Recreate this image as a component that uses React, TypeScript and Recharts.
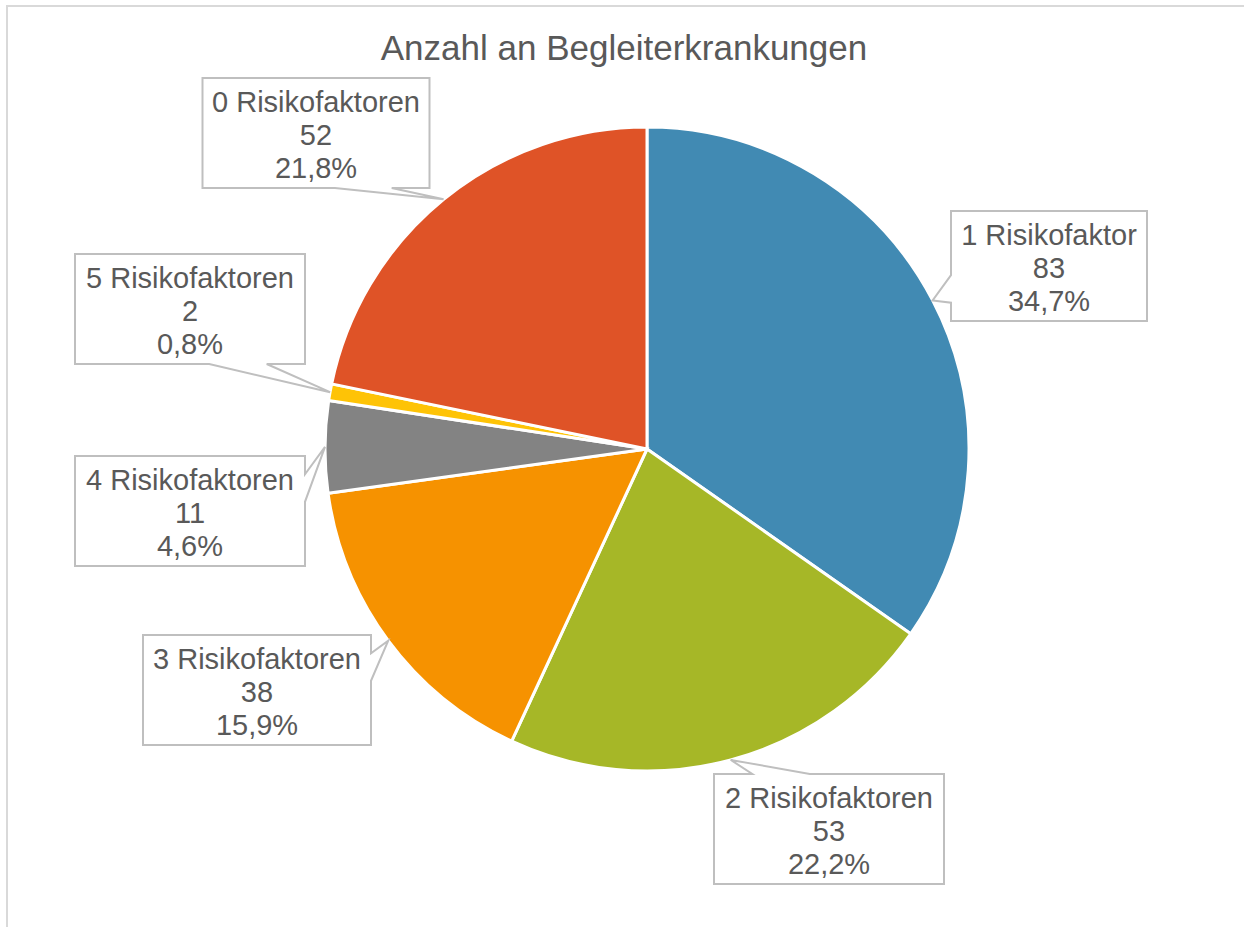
import React from 'react';
import { PieChart, Pie, Cell } from 'recharts';

const categories = ['1 Risikofaktor', '2 Risikofaktoren', '3 Risikofaktoren', '4 Risikofaktoren', '5 Risikofaktoren', '0 Risikofaktoren'];
const counts = [83, 53, 38, 11, 2, 52];
const colors = ['#418AB3', '#A6B727', '#F69200', '#838383', '#FEC306', '#DF5327'];

// callout boxes: centre offset from the pie centre, size, and which edge carries the wedge
const callouts = [
  { dx: 402, dy: -183, w: 196, side: 'left' },
  { dx: 182, dy: 380, w: 230, side: 'top' },
  { dx: -390, dy: 241, w: 228, side: 'right' },
  { dx: -457, dy: 62, w: 230, side: 'right' },
  { dx: -457, dy: -140, w: 230, side: 'bottom' },
  { dx: -331, dy: -316, w: 227, side: 'bottom' },
];

const total = counts.reduce((a, b) => a + b, 0);
const data = categories.map((name, i) => ({ name, value: counts[i] }));

const TEXT = '#595959';
const FONT = '"Liberation Sans", Arial, sans-serif';
const RAD = Math.PI / 180;

function calloutPath(l: number, t: number, w: number, h: number, tx: number, ty: number, side: string) {
  const r = l + w;
  const b = t + h;
  const hc = l + w / 2;
  const vc = t + h / 2;
  const xg1 = tx - hc > 0 ? 7 : 2;
  const xg2 = tx - hc > 0 ? 10 : 5;
  const yg1 = ty - vc > 0 ? 7 : 2;
  const yg2 = ty - vc > 0 ? 10 : 5;
  const x1 = l + (w * xg1) / 12;
  const x2 = l + (w * xg2) / 12;
  const y1 = t + (h * yg1) / 12;
  const y2 = t + (h * yg2) / 12;
  const pts: [number, number][] = [[l, t]];
  if (side === 'top') pts.push([x1, t], [tx, ty], [x2, t]);
  pts.push([r, t]);
  if (side === 'right') pts.push([r, y1], [tx, ty], [r, y2]);
  pts.push([r, b]);
  if (side === 'bottom') pts.push([x2, b], [tx, ty], [x1, b]);
  pts.push([l, b]);
  if (side === 'left') pts.push([l, y2], [tx, ty], [l, y1]);
  return 'M' + pts.map((p) => p[0].toFixed(1) + ',' + p[1].toFixed(1)).join('L') + 'Z';
}

const renderLabel = (props: any) => {
  const { cx, cy, midAngle, outerRadius, index, value, name } = props;
  const c = callouts[index];
  const h = 110;
  const bx = cx + c.dx;
  const by = cy + c.dy;
  const l = bx - c.w / 2;
  const t = by - h / 2;
  const tx = cx + outerRadius * Math.cos(-midAngle * RAD);
  const ty = cy + outerRadius * Math.sin(-midAngle * RAD);
  const pct = ((value / total) * 100).toFixed(1).replace('.', ',') + '%';
  return (
    <g key={'callout-' + index}>
      <path d={calloutPath(l, t, c.w, h, tx, ty, c.side)} fill="#fff" stroke="#BFBFBF" strokeWidth={2} />
      <text x={bx} y={t + 34} textAnchor="middle" fill={TEXT} fontSize={29} fontFamily={FONT}>{name}</text>
      <text x={bx} y={t + 67} textAnchor="middle" fill={TEXT} fontSize={29} fontFamily={FONT}>{value}</text>
      <text x={bx} y={t + 100} textAnchor="middle" fill={TEXT} fontSize={29} fontFamily={FONT}>{pct}</text>
    </g>
  );
};

export default function App() {
  return (
    <div style={{ position: 'absolute', left: 0, top: 0, width: 1244, height: 927, background: '#fff', overflow: 'hidden' }}>
      <div
        style={{
          position: 'absolute',
          left: 6,
          top: 5,
          width: 1244,
          height: 940,
          border: '2px solid #D9D9D9',
          boxSizing: 'border-box',
        }}
      />
      <div
        style={{
          position: 'absolute',
          left: 0,
          top: 28,
          width: 1248,
          textAlign: 'center',
          fontFamily: FONT,
          fontSize: 35,
          color: TEXT,
          lineHeight: '40px',
        }}
      >
        Anzahl an Begleiterkrankungen
      </div>
      <PieChart
        width={1244}
        height={927}
        margin={{ top: 0, right: 0, bottom: 0, left: 0 }}
        style={{ position: 'absolute', left: 0, top: 0 }}
      >
        <Pie
          data={data}
          dataKey="value"
          nameKey="name"
          cx={647}
          cy={449}
          outerRadius={322}
          startAngle={90}
          endAngle={-270}
          stroke="#fff"
          strokeWidth={3}
          labelLine={false}
          label={renderLabel}
          isAnimationActive={false}
        >
          {data.map((d, i) => (
            <Cell key={d.name} fill={colors[i]} />
          ))}
        </Pie>
      </PieChart>
    </div>
  );
}
